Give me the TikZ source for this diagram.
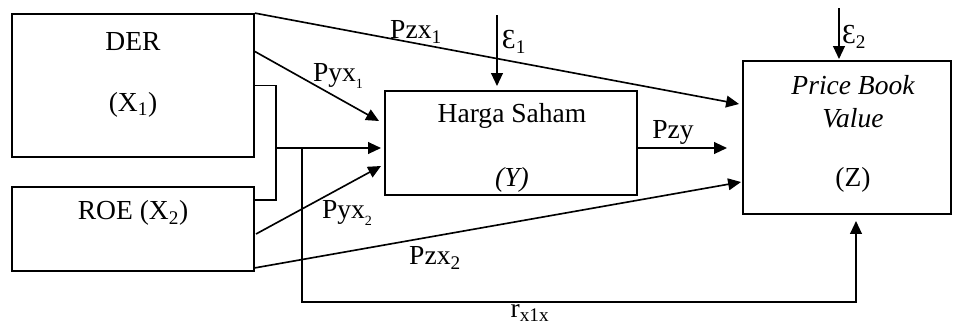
\documentclass[tikz,border=0pt]{standalone}
\usepackage{fontspec}
\setmainfont{Liberation Serif}
\usetikzlibrary{arrows.meta}

\tikzset{
  box/.style={draw,line width=1.5pt,inner sep=0pt},
  link/.style={line width=1.4pt},
  arr/.style={link,-{Triangle[length=11pt,width=10pt]}},
  txt/.style={inner sep=0pt,font=\fontsize{23.5}{28}\selectfont}
}

\begin{document}
\begin{tikzpicture}[x=0.03cm,y=-0.03cm,line cap=butt,line join=miter]

\path[use as bounding box] (0,0) rectangle (953,325);

% boxes
\node[box,minimum width=7.26cm,minimum height=4.29cm] (der) at (133,85.5) {};
\node[box,minimum width=7.26cm,minimum height=2.52cm] (roe) at (133,229) {};
\node[box,minimum width=7.56cm,minimum height=3.12cm] (harga) at (511,143) {};
\node[box,minimum width=6.24cm,minimum height=4.59cm] (pbv) at (847,137.5) {};

% texts in boxes
\node[txt] (derA) at (133,42) {DER};
\node[txt] (derB) at (133,105) {(X\textsubscript{1})};
\node[txt] (roeA) at (133,213) {ROE (X\textsubscript{2})};
\node[txt] (hargaA) at (512,116) {Harga Saham};
\node[txt] (hargaB) at (512,180) {\itshape (Y)};
\node[txt] (pbvA) at (853,85) {\itshape Price Book};
\node[txt] (pbvB) at (853,118) {\itshape Value};
\node[txt] (pbvC) at (853,180) {(Z)};

% free ends
\coordinate (pzxA) at (739,104);
\coordinate (pzxB) at (741,182);
\coordinate (pyxS) at (254,51);
\coordinate (pyxA) at (379,121);
\coordinate (pyxT) at (256,234);
\coordinate (pyxB) at (381,166);
\coordinate (brk) at (276,148);
\coordinate (brkEnd) at (254,200);
\coordinate (joinY) at (381,148);
\coordinate (rDown) at (302,148);
\coordinate (rEnd) at (856,302);
\coordinate (rTip) at (856,221);
\coordinate (pzyS) at (637,148);
\coordinate (pzyE) at (727,148);
\coordinate (epsA) at (497,15);
\coordinate (epsAe) at (497,86);
\coordinate (epsB) at (839,8);
\coordinate (epsBe) at (839,59);

% paths
\draw[arr] (der.north east) -- (pzxA);
\draw[arr] (pyxS) -- (pyxA);
\draw[arr] (pyxT) -- (pyxB);
\draw[arr] (roe.south east) ++(0,-4) -- (pzxB);
\draw[link] (der.east) -| (brk) |- (brkEnd);
\draw[arr] (brk) -- (joinY);
\draw[arr] (rDown) |- (rEnd) -- (rTip);
\draw[arr] (pzyS) -- (pzyE);
\draw[arr] (epsA) -- (epsAe);
\draw[arr] (epsB) -- (epsBe);

% labels
\node[txt] (lpzx1) at (416,32) {Pzx\textsubscript{1}};
\node[txt] (lpyx1) at (338,76) {Pyx\raisebox{-0.6ex}{\fontsize{12}{14}\selectfont 1}};
\node[txt] (lpyx2) at (347,213) {Pyx\raisebox{-0.6ex}{\fontsize{12}{14}\selectfont 2}};
\node[txt] (lpzx2) at (435,258) {Pzx\textsubscript{2}};
\node[txt] (lpzy) at (673,132) {Pzy};
\node[txt] (leps1) at (514,42) {Ɛ\textsubscript{1}};
\node[txt] (leps2) at (854,37) {Ɛ\textsubscript{2}};
\node[txt] (lr) at (530,313) {r\textsubscript{x1x}};

\end{tikzpicture}
\end{document}
